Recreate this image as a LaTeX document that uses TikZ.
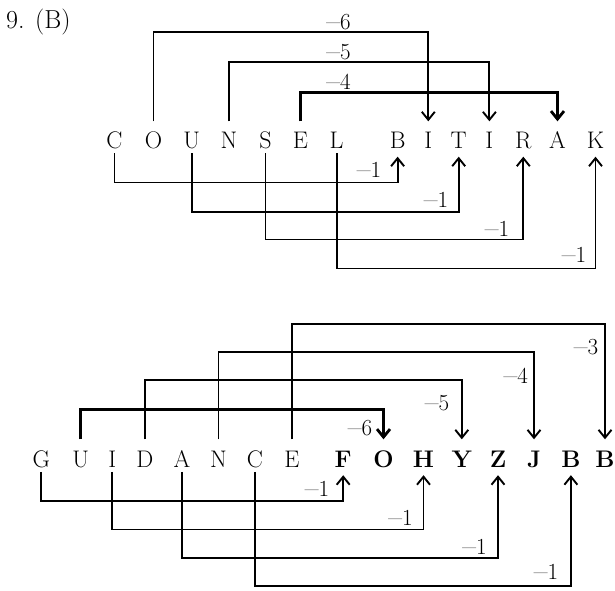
\documentclass[tikz,border=0pt]{standalone}
\usepackage{fontspec}
\usepackage{graphicx}
\usetikzlibrary{arrows.meta}
\newcommand{\mydash}{\scalebox{1.3}[1]{\textendash}}
\begin{document}
\begin{tikzpicture}[x=1pt,y=-1pt,
  letter/.style={inner sep=0pt,text height=17pt,text depth=0pt,anchor=base,font=\fontsize{24}{24}\selectfont},
  bletter/.style={letter,font=\fontsize{24}{24}\selectfont\bfseries},
  lab/.style={inner sep=0pt,anchor=base,font=\fontsize{23}{23}\selectfont},
  link/.style={line width=1.9pt,-{Straight Barb[length=8pt,width=13pt]}},
  thicklink/.style={link,line width=2.8pt}]
\useasboundingbox (0,0) rectangle (615,590);
\node[inner sep=0pt,anchor=base west,font=\fontsize{26}{26}\selectfont] (title) at (6,28.5) {9. (B)};
% first row
\foreach \n/\x/\t in {a1/114.5/C,a2/153.5/O,a3/191.7/U,a4/229/N,a5/265.5/S,a6/300.5/E,a7/336.6/L,
  a8/397.6/B,a9/428.3/I,a10/458.7/T,a11/489.4/I,a12/523.3/R,a13/557.5/A,a14/595.5/K}
  \node[letter] (\n) at (\x,148.5) {\t};
% second row
\foreach \n/\x/\t in {b1/41.3/G,b2/80.7/U,b3/112.2/I,b4/144.9/D,b5/181.9/A,b6/218.5/N,b7/255/C,b8/292/E}
  \node[letter] (\n) at (\x,467) {\t};
\foreach \n/\x/\t in {b9/343.2/F,b10/383.5/O,b11/423.5/H,b12/461.8/Y,b13/498/Z,b14/534/J,b15/570.9/B,b16/605/B}
  \node[bletter] (\n) at (\x,467) {\t};
% first row, upper connectors
\draw[link] ([yshift=10pt]a2.north) -- ++(0,-89.7) -| ([yshift=10pt]a9.north);
\draw[link] ([yshift=10pt]a4.north) -- ++(0,-59.2) -| ([yshift=10pt]a11.north);
\draw[thicklink] ([yshift=10pt]a6.north) -- ++(0,-29.2) -| ([yshift=10pt]a13.north);
\node[lab] (l1) at (338.6,29) {\mydash6};
\node[lab] (l2) at (338.6,59.5) {\mydash5};
\node[lab] (l3) at (338.6,89.5) {\mydash4};
% first row, lower connectors
\draw[link] ([yshift=-4.5pt]a1.south) -- ++(0,29.3) -| ([yshift=-8pt]a8.south);
\draw[link] ([yshift=-4.5pt]a3.south) -- ++(0,58.7) -| ([yshift=-8pt]a10.south);
\draw[link] ([yshift=-4.5pt]a5.south) -- ++(0,86.3) -| ([yshift=-8pt]a12.south);
\draw[link] ([yshift=-4.5pt]a7.south) -- ++(0,115.3) -| ([yshift=-8pt]a14.south);
\node[lab] (l4) at (369,177.5) {\mydash1};
\node[lab] (l5) at (436,207) {\mydash1};
\node[lab] (l6) at (497,236) {\mydash1};
\node[lab] (l7) at (574,262.5) {\mydash1};
% second row, upper connectors
\draw[thicklink] ([yshift=10.5pt]b2.north) -- ++(0,-29.5) -| ([yshift=10.5pt]b10.north);
\draw[link] ([yshift=10.5pt]b4.north) -- ++(0,-59.5) -| ([yshift=10.5pt]b12.north);
\draw[link] ([yshift=10.5pt]b6.north) -- ++(0,-87.2) -| ([yshift=10.5pt]b14.north);
\draw[link] ([yshift=10.5pt]b8.north) -- ++(0,-115.5) -| ([yshift=10.5pt]b16.north);
\node[lab] (l8) at (360,435) {\mydash6};
\node[lab] (l9) at (437,410.5) {\mydash5};
\node[lab] (l10) at (515.7,383) {\mydash4};
\node[lab] (l11) at (586,354) {\mydash3};
% second row, lower connectors
\draw[link] ([yshift=-4.7pt]b1.south) -- ++(0,29) -| ([yshift=-8pt]b9.south);
\draw[link] ([yshift=-4.7pt]b3.south) -- ++(0,57.6) -| ([yshift=-8pt]b11.south);
\draw[link] ([yshift=-4.7pt]b5.south) -- ++(0,86) -| ([yshift=-8pt]b13.south);
\draw[link] ([yshift=-4.7pt]b7.south) -- ++(0,114.3) -| ([yshift=-8pt]b15.south);
\node[lab] (l12) at (317,496) {\mydash1};
\node[lab] (l13) at (400.6,525) {\mydash1};
\node[lab] (l14) at (474.6,554) {\mydash1};
\node[lab] (l15) at (546,579) {\mydash1};
\end{tikzpicture}
\end{document}
